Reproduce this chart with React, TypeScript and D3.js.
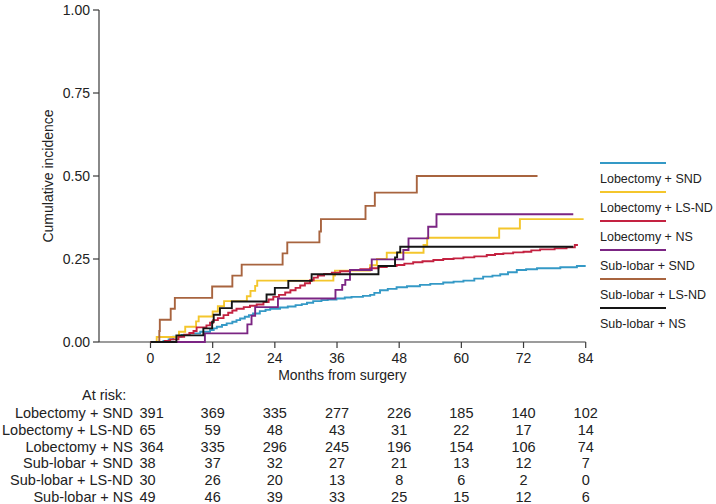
import React from "react";
import * as d3 from "d3";

type Pt = [number, number];

const groups = [
  "Lobectomy + SND",
  "Lobectomy + LS-ND",
  "Lobectomy + NS",
  "Sub-lobar + SND",
  "Sub-lobar + LS-ND",
  "Sub-lobar + NS",
];
const colors = ["#3499c6", "#f4c62c", "#c42241", "#7b2583", "#a8643f", "#151515"];

const xTicks = [0, 12, 24, 36, 48, 60, 72, 84];
const yTicks = [0, 0.25, 0.5, 0.75, 1];

// step events: [month, cumulative incidence]
const lobSND: Pt[] = [
  [2.5, 0.003], [3.5, 0.008], [4.4, 0.016], [6, 0.021], [7.6, 0.026], [9.6, 0.031],
  [11.5, 0.036], [12.2, 0.041], [12.8, 0.046], [13.8, 0.051], [14.7, 0.056], [15.8, 0.061],
  [16.6, 0.066], [17.3, 0.071], [18.2, 0.076], [19.0, 0.081], [19.8, 0.086], [21.1, 0.093],
  [22.2, 0.097], [23.1, 0.1], [25.0, 0.104], [26.5, 0.107], [28.0, 0.111], [29.2, 0.114],
  [30.2, 0.118], [31.4, 0.123], [33.0, 0.126], [34.2, 0.128], [35.9, 0.131], [37.5, 0.134],
  [38.8, 0.136], [41.0, 0.139], [42.4, 0.142], [43.2, 0.148], [44.3, 0.156], [45.8, 0.16],
  [47.5, 0.165], [49.5, 0.168], [52, 0.172], [54, 0.175], [56.5, 0.179], [58.5, 0.182],
  [60.4, 0.185], [62.5, 0.191], [64.2, 0.197], [66, 0.2], [67.5, 0.204], [69, 0.21],
  [70.7, 0.217], [72.5, 0.219], [74.6, 0.222], [79.1, 0.225], [82.3, 0.229], [84, 0.229],
];
const lobLSND: Pt[] = [
  [1.2, 0.015], [5.5, 0.031], [6.7, 0.046], [8.8, 0.062], [9.3, 0.077], [12.0, 0.092],
  [13.0, 0.108], [14.2, 0.123], [18.6, 0.138], [19.3, 0.154], [20.2, 0.169], [20.6, 0.185],
  [35.3, 0.2], [35.6, 0.215], [42.4, 0.231], [43.7, 0.25], [45.6, 0.269], [52.7, 0.292],
  [53.4, 0.314], [67.3, 0.342], [71.3, 0.37], [83.6, 0.37],
];
const lobNS: Pt[] = [
  [2.8, 0.003], [3.8, 0.008], [5.4, 0.016], [6.5, 0.022], [7.5, 0.027], [8.3, 0.033],
  [8.9, 0.044], [10.8, 0.05], [11.5, 0.058], [12.1, 0.066], [13.0, 0.072], [14.1, 0.081],
  [15.0, 0.088], [15.8, 0.095], [16.6, 0.1], [18.0, 0.105], [19.2, 0.109], [20.5, 0.113],
  [21.8, 0.12], [22.8, 0.128], [23.7, 0.136], [24.8, 0.142], [26.0, 0.149], [27.0, 0.156],
  [28.0, 0.163], [28.9, 0.17], [29.8, 0.177], [30.8, 0.186], [31.5, 0.194], [32.3, 0.2],
  [33.5, 0.205], [35, 0.209], [36.6, 0.213], [38.5, 0.217], [40.5, 0.219], [42.4, 0.222],
  [44, 0.226], [45.6, 0.229], [47.5, 0.232], [49, 0.236], [50.7, 0.24], [52.5, 0.243],
  [54.6, 0.247], [56.5, 0.25], [58.5, 0.252], [60.4, 0.255], [62.5, 0.258], [64.9, 0.262],
  [66.5, 0.265], [68.1, 0.267], [70, 0.27], [72, 0.272], [73.5, 0.276], [75.2, 0.279],
  [78, 0.282], [80.3, 0.285], [81.9, 0.292], [82.5, 0.292],
];
const subSND: Pt[] = [
  [10.5, 0.026], [18.7, 0.053], [19.5, 0.079], [20.2, 0.105], [24.6, 0.131], [35.7, 0.157],
  [37.0, 0.172], [37.6, 0.187], [38.5, 0.217], [42.7, 0.249], [48.8, 0.277], [49.8, 0.312],
  [53.6, 0.347], [55.2, 0.385], [81.6, 0.385],
];
const subLSND: Pt[] = [
  [1.7, 0.033], [1.8, 0.067], [3.9, 0.1], [4.7, 0.133], [11.9, 0.167], [15.8, 0.2],
  [17.6, 0.233], [25.5, 0.267], [26.4, 0.3], [32.6, 0.333], [32.9, 0.37], [41.5, 0.41],
  [43.3, 0.45], [51.4, 0.5], [74.7, 0.5],
];
const subNS: Pt[] = [
  [5.0, 0.02], [10.2, 0.041], [11.9, 0.061], [12.2, 0.082], [13.4, 0.102], [15.7, 0.122],
  [22.4, 0.143], [24.0, 0.163], [26.6, 0.184], [31.1, 0.204], [44.0, 0.229], [47.2, 0.255],
  [47.6, 0.27], [48.2, 0.287], [81.6, 0.287],
];
const curves: Pt[][] = [lobSND, lobLSND, lobNS, subSND, subLSND, subNS];

const atRisk: number[][] = [
  [391, 369, 335, 277, 226, 185, 140, 102],
  [65, 59, 48, 43, 31, 22, 17, 14],
  [364, 335, 296, 245, 196, 154, 106, 74],
  [38, 37, 32, 27, 21, 13, 12, 7],
  [30, 26, 20, 13, 8, 6, 2, 0],
  [49, 46, 39, 33, 25, 15, 12, 6],
];

const FONT = "'Liberation Sans', Arial, Helvetica, sans-serif";

export default function App() {
  const W = 716, H = 504;
  const x = d3.scaleLinear().domain([0, 84]).range([150.5, 585.7]);
  const y = d3.scaleLinear().domain([0, 1]).range([342, 10]);
  const axisLeftX = 99;
  const line = d3
    .line<Pt>()
    .x((d) => x(d[0]))
    .y((d) => y(d[1]))
    .curve(d3.curveStepAfter);
  const axisColor = "#3a3a3a";
  const legendY0 = 163;
  const legendStep = 29;
  const rowY0 = 418;
  const rowStep = 16.8;
  const tableFont = 14.5;

  return (
    <svg
      width={W}
      height={H}
      style={{ position: "absolute", left: 0, top: 0, background: "#fff" }}
      fontFamily={FONT}
    >
      <rect width={W} height={H} fill="#fff" />
      {/* y axis */}
      <line x1={axisLeftX} x2={axisLeftX} y1={y(1)} y2={y(0)} stroke={axisColor} strokeWidth={1.2} />
      {yTicks.map((t) => (
        <g key={t}>
          <line x1={axisLeftX - 6} x2={axisLeftX} y1={y(t)} y2={y(t)} stroke={axisColor} strokeWidth={1.2} />
          <text x={axisLeftX - 9} y={y(t)} dy="0.35em" textAnchor="end" fontSize={14} fill="#222">
            {t.toFixed(2)}
          </text>
        </g>
      ))}
      <text
        transform={`translate(53,${y(0.5)}) rotate(-90)`}
        textAnchor="middle"
        fontSize={14}
        fill="#222"
      >
        Cumulative incidence
      </text>
      {/* x axis */}
      <line x1={axisLeftX} x2={x(84)} y1={y(0)} y2={y(0)} stroke={axisColor} strokeWidth={1.2} />
      {xTicks.map((t) => (
        <g key={t}>
          <line x1={x(t)} x2={x(t)} y1={y(0)} y2={y(0) + 6} stroke={axisColor} strokeWidth={1.2} />
          <text x={x(t)} y={363} textAnchor="middle" fontSize={14} fill="#222">
            {t}
          </text>
        </g>
      ))}
      <text x={(axisLeftX + x(84)) / 2} y={380} textAnchor="middle" fontSize={14} fill="#222">
        Months from surgery
      </text>
      {/* curves */}
      {curves.map((c, i) => (
        <path
          key={i}
          d={line([[0, 0] as Pt, ...c]) || ""}
          fill="none"
          stroke={colors[i]}
          strokeWidth={1.9}
        />
      ))}
      {/* legend */}
      {groups.map((g, i) => (
        <g key={g}>
          <line
            x1={600}
            x2={666}
            y1={legendY0 + i * legendStep}
            y2={legendY0 + i * legendStep}
            stroke={colors[i]}
            strokeWidth={2}
          />
          <text x={600} y={legendY0 + i * legendStep + 20} fontSize={12.5} fill="#222">
            {g}
          </text>
        </g>
      ))}
      {/* at risk table */}
      <text x={82} y={400} fontSize={tableFont} fill="#222">
        At risk:
      </text>
      {groups.map((g, r) => (
        <g key={g}>
          <text x={133} y={rowY0 + r * rowStep} textAnchor="end" fontSize={tableFont} fill="#222">
            {g}
          </text>
          {atRisk[r].map((v, c) => (
            <text
              key={c}
              x={c === 0 ? x(xTicks[c]) - 11 : x(xTicks[c])}
              y={rowY0 + r * rowStep}
              textAnchor={c === 0 ? "start" : "middle"}
              fontSize={tableFont}
              fill="#222"
            >
              {v}
            </text>
          ))}
        </g>
      ))}
    </svg>
  );
}
